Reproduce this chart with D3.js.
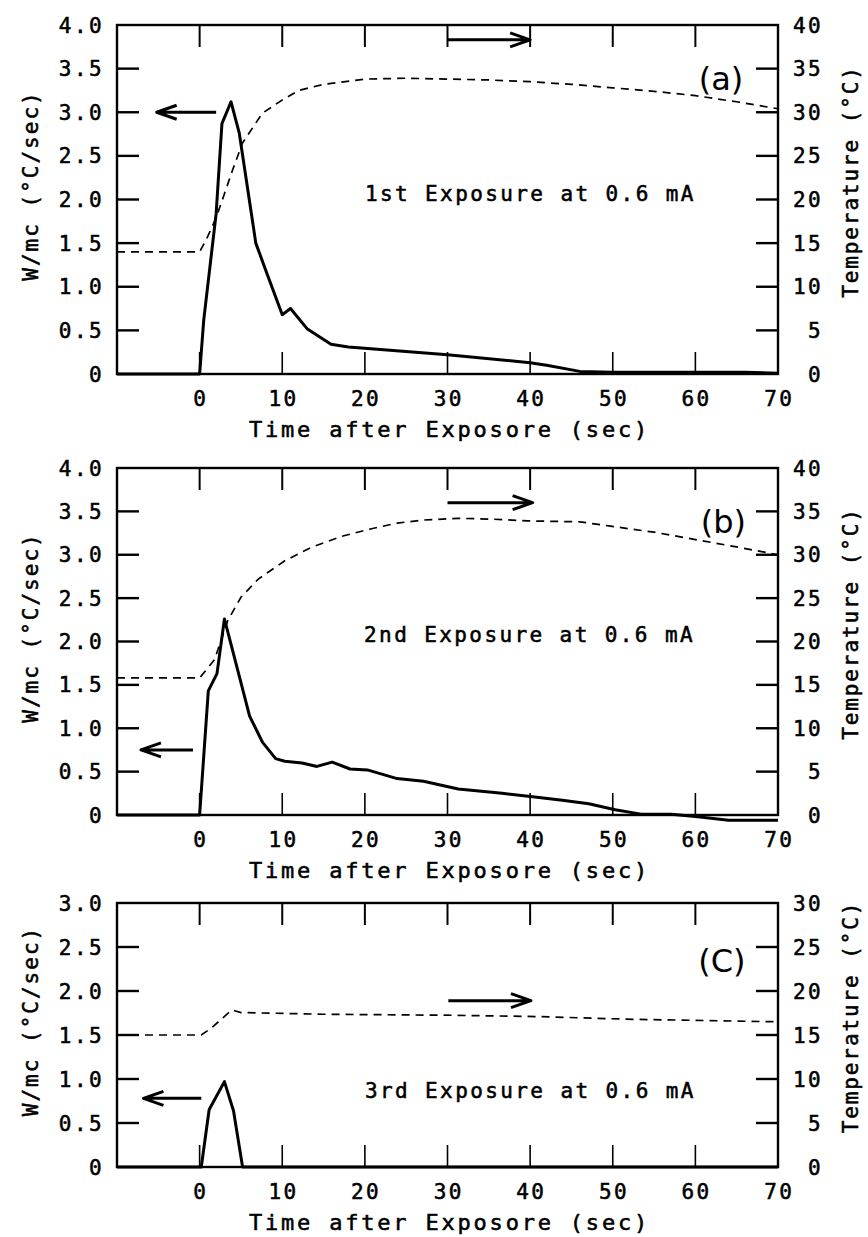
<!DOCTYPE html>
<html>
<head>
<meta charset="utf-8">
<script src="https://cdn.jsdelivr.net/npm/d3@7"></script>
<style>
  body { margin: 0; background: #fff; }
  text { font-family: "DejaVu Sans Mono", monospace; fill: #000; stroke: #000; stroke-width: 0.55px; }
  text.tag { stroke-width: 0; }
</style>
</head>
<body>
<div id="chart"></div>
<script>
// ---- data ----
// time axis (sec)
const timeTicks = [0, 10, 20, 30, 40, 50, 60, 70];

// (a) 1st exposure
const rateTimeA = [-10, 0, 0.5, 2.0, 2.7, 3.8, 4.8, 6.8, 8.0, 10.0, 11.0, 13.0, 15.9, 18, 30, 40, 42, 46, 50, 60, 66, 70];
const rateA     = [0, 0, 0.62, 1.84, 2.87, 3.12, 2.76, 1.50, 1.19, 0.68, 0.75, 0.52, 0.34, 0.31, 0.22, 0.13, 0.10, 0.03, 0.02, 0.02, 0.02, 0.01];
const tempTimeA = [-10, 0, 0.8, 2, 4, 5.2, 7.6, 10, 12, 15, 20, 25, 30, 35, 40, 45, 50, 55, 60, 65, 70];
const tempA     = [14, 14, 15.4, 17.9, 23.4, 26.5, 29.9, 31.4, 32.5, 33.2, 33.8, 33.9, 33.8, 33.7, 33.5, 33.2, 32.8, 32.4, 31.9, 31.2, 30.4];

// (b) 2nd exposure
const rateTimeB = [-10, 0, 1.05, 2.1, 3.0, 4.5, 6.05, 7.6, 9.2, 10.3, 12.4, 14.2, 16.05, 18.2, 20.3, 23.9, 27.1, 31.3, 36.6, 40.3, 43.9, 47.1, 50.3, 53.4, 57.1, 60.3, 64, 70];
const rateB     = [0, 0, 1.43, 1.63, 2.26, 1.71, 1.14, 0.84, 0.65, 0.62, 0.60, 0.56, 0.61, 0.53, 0.52, 0.42, 0.39, 0.30, 0.25, 0.21, 0.17, 0.13, 0.06, 0.01, 0.01, -0.02, -0.06, -0.06];
const tempTimeB = [-10, 0, 1.8, 3.4, 5, 7.1, 10.3, 13.4, 17.1, 20.8, 23.9, 27.1, 31.3, 35.5, 39.7, 46, 49.7, 55, 60.3, 65, 70];
const tempB     = [15.8, 15.8, 17.9, 22.4, 25.1, 27.2, 29.3, 30.8, 32.1, 33.0, 33.65, 34.0, 34.2, 34.1, 33.9, 33.8, 33.3, 32.6, 31.7, 30.9, 30.0];

// (c) 3rd exposure
const rateTimeC = [-10, 0.2, 1.15, 3.0, 4.1, 5.2, 70];
const rateC     = [0, 0, 0.65, 0.97, 0.64, 0, 0];
const tempTimeC = [-10, 0.2, 1.3, 3.9, 5.0, 14.9, 30.7, 41.1, 51.6, 70];
const tempC     = [15.0, 15.0, 15.7, 17.85, 17.55, 17.36, 17.24, 17.09, 16.8, 16.5];

const panels = [
  { top: 25, bottom: 374, wMax: 4, tMax: 40,
    rateT: rateTimeA, rate: rateA, tempT: tempTimeA, temp: tempA,
    tag: "(a)", tagAt: [63.1, 3.39],
    note: "1st Exposure at 0.6 mA", noteAt: [20, 2.07],
    leftArrow: [2.0, -5.2, 3.0], rightArrow: [30, 40, 38.3] },
  { top: 468, bottom: 815, wMax: 4, tMax: 40,
    rateT: rateTimeB, rate: rateB, tempT: tempTimeB, temp: tempB,
    tag: "(b)", tagAt: [63.4, 3.38],
    note: "2nd Exposure at 0.6 mA", noteAt: [19.9, 2.08],
    leftArrow: [-0.8, -7.1, 0.75], rightArrow: [30, 40.3, 36] },
  { top: 903, bottom: 1167, wMax: 3, tMax: 30,
    rateT: rateTimeC, rate: rateC, tempT: tempTimeC, temp: tempC,
    tag: "(C)", tagAt: [63.2, 2.35],
    note: "3rd Exposure at 0.6 mA", noteAt: [20, 0.87],
    leftArrow: [0.2, -6.8, 0.78], rightArrow: [30.1, 40.1, 18.9] }
];

const svg = d3.select("#chart").append("svg")
  .attr("width", 868)
  .attr("height", 1237);

const x = d3.scaleLinear().domain([-10, 70]).range([117, 778]);
const tickLen = 22;

function arrow(g, x0, x1, y) {
  // shaft from x0 to the tip at x1, open head
  const dir = x1 > x0 ? 1 : -1;
  g.append("path")
    .attr("d", `M${x0},${y}L${x1},${y}M${x1 - dir * 20},${y - 7}L${x1},${y}L${x1 - dir * 20},${y + 7}`)
    .attr("fill", "none")
    .attr("stroke", "#000")
    .attr("stroke-width", 3)
    .attr("stroke-linejoin", "round");
}

panels.forEach((p) => {
  const g = svg.append("g");
  const yL = d3.scaleLinear().domain([0, p.wMax]).range([p.bottom, p.top]);
  const yR = d3.scaleLinear().domain([0, p.tMax]).range([p.bottom, p.top]);

  // frame
  g.append("rect")
    .attr("x", x(-10)).attr("y", p.top)
    .attr("width", x(70) - x(-10)).attr("height", p.bottom - p.top)
    .attr("fill", "none").attr("stroke", "#000").attr("stroke-width", 2.4);

  // inward ticks
  const inner = timeTicks.filter((d) => d < 70);
  g.selectAll(".tt").data(inner).enter().append("line")
    .attr("x1", (d) => x(d)).attr("x2", (d) => x(d))
    .attr("y1", p.top).attr("y2", p.top + tickLen)
    .attr("stroke", "#000").attr("stroke-width", 2);
  g.selectAll(".bt").data(inner).enter().append("line")
    .attr("x1", (d) => x(d)).attr("x2", (d) => x(d))
    .attr("y1", p.bottom).attr("y2", p.bottom - tickLen)
    .attr("stroke", "#000").attr("stroke-width", 1.6);

  const wVals = d3.range(0, p.wMax + 0.01, 0.5);
  const tVals = d3.range(0, p.tMax + 0.01, 5);
  g.selectAll(".lt").data(wVals.filter((d) => d > 0 && d < p.wMax)).enter().append("line")
    .attr("x1", x(-10)).attr("x2", x(-10) + tickLen)
    .attr("y1", (d) => yL(d)).attr("y2", (d) => yL(d))
    .attr("stroke", "#000").attr("stroke-width", 2.4);
  g.selectAll(".rt").data(tVals.filter((d) => d > 0 && d < p.tMax)).enter().append("line")
    .attr("x1", x(70)).attr("x2", x(70) - tickLen)
    .attr("y1", (d) => yR(d)).attr("y2", (d) => yR(d))
    .attr("stroke", "#000").attr("stroke-width", 2.4);

  // tick labels
  g.selectAll(".ll").data(wVals).enter().append("text")
    .attr("x", 104).attr("y", (d) => yL(d))
    .attr("dy", "0.36em")
    .attr("text-anchor", "end")
    .attr("font-size", 21).attr("letter-spacing", 2.4)
    .text((d) => (d === 0 ? "0" : d.toFixed(1)));
  g.selectAll(".rl").data(tVals).enter().append("text")
    .attr("x", 823).attr("y", (d) => yR(d))
    .attr("dy", "0.36em")
    .attr("text-anchor", "end")
    .attr("font-size", 21).attr("letter-spacing", 2.4)
    .text((d) => d);
  g.selectAll(".xl").data(timeTicks).enter().append("text")
    .attr("x", (d) => x(d) + 1.2).attr("y", p.bottom + 32)
    .attr("text-anchor", "middle")
    .attr("font-size", 21).attr("letter-spacing", 2.4)
    .text((d) => d);

  // axis titles
  g.append("text")
    .attr("x", x(30) + 2).attr("y", p.bottom + 63)
    .attr("text-anchor", "middle")
    .attr("font-size", 22).attr("letter-spacing", 2.8)
    .text("Time after Exposore (sec)");
  const mid = (p.top + p.bottom) / 2;
  g.append("text")
    .attr("transform", `translate(38,${mid - 14}) rotate(-90)`)
    .attr("text-anchor", "middle")
    .attr("font-size", 21).attr("letter-spacing", 2.0)
    .text("W/mc  (°C/sec)");
  g.append("text")
    .attr("transform", `translate(858,${mid - 18}) rotate(-90)`)
    .attr("text-anchor", "middle")
    .attr("font-size", 21).attr("letter-spacing", 1.9)
    .text("Temperature  (°C)");

  // temperature (dashed, right axis)
  const tempLine = d3.line()
    .x((d, i) => x(p.tempT[i]))
    .y((d) => yR(d));
  g.append("path")
    .datum(p.temp)
    .attr("d", tempLine)
    .attr("fill", "none").attr("stroke", "#000")
    .attr("stroke-width", 1.7).attr("stroke-dasharray", "8,6");

  // rate (solid, left axis)
  const rateLine = d3.line()
    .x((d, i) => x(p.rateT[i]))
    .y((d) => yL(d));
  g.append("path")
    .datum(p.rate)
    .attr("d", rateLine)
    .attr("fill", "none").attr("stroke", "#000")
    .attr("stroke-width", 3).attr("stroke-linejoin", "round");

  // annotations
  arrow(g, x(p.leftArrow[0]), x(p.leftArrow[1]), yL(p.leftArrow[2]));
  arrow(g, x(p.rightArrow[0]), x(p.rightArrow[1]), yR(p.rightArrow[2]));

  g.append("text")
    .attr("x", x(p.noteAt[0])).attr("y", yL(p.noteAt[1]))
    .attr("dy", "0.36em")
    .attr("font-size", 21).attr("letter-spacing", 2.4)
    .text(p.note);

  g.append("text")
    .attr("class", "tag")
    .attr("x", x(p.tagAt[0])).attr("y", yL(p.tagAt[1]))
    .attr("dy", "0.36em")
    .attr("text-anchor", "middle")
    .style("font-family", "'DejaVu Sans', sans-serif")
    .attr("font-size", 32)
    .text(p.tag);
});
</script>
</body>
</html>
